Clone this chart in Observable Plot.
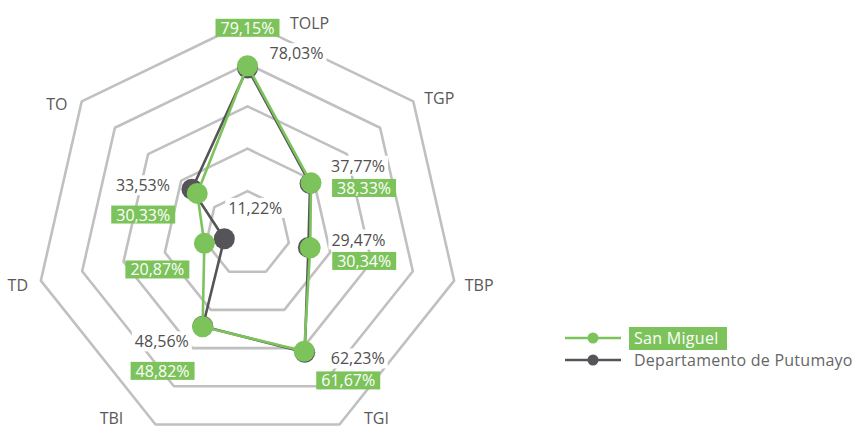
<!DOCTYPE html>
<html>
<head>
<meta charset="utf-8">
<script src="https://cdn.jsdelivr.net/npm/d3@7"></script>
<script src="https://cdn.jsdelivr.net/npm/@observablehq/plot@0.6"></script>
<style>
  html, body { margin: 0; padding: 0; background: #fff; }
  #wrap { position: relative; width: 858px; height: 427px; font-family: "Open Sans", sans-serif; }
  #legend { position: absolute; left: 565px; top: 327px; }
  .row { display: flex; align-items: center; height: 22px; }
  .row svg { display: block; }
  .lab { font-size: 16px; line-height: 22px; white-space: nowrap; }
  .lab.green { background: #7DC35B; color: #fff; padding: 0 8px 0 5px; margin-left: 8px; height: 23px; line-height: 23px; letter-spacing: 0.3px; }
  .lab.dark { color: #666; margin-left: 13px; letter-spacing: 0.25px; }
</style>
</head>
<body>
<div id="wrap"><div id="chart"></div><div id="legend"></div></div>
<script>
// ---- data ----
const axes = ["TOLP", "TGP", "TBP", "TGI", "TBI", "TD", "TO"];
const sanMiguel = [79.15, 38.33, 30.34, 61.67, 48.82, 20.87, 30.33];
const putumayo = [78.03, 37.77, 29.47, 62.23, 48.56, 11.22, 33.53];
const ringValues = [20, 40, 60, 80, 100];
const seriesNames = ["San Miguel", "Departamento de Putumayo"];

// ---- layout / style ----
const W = 858, H = 427, CX = 247, CY = 233, PX = 2.12; // px per percentage point
const green = "#7DC35B", dark = "#555559", ringColor = "#C0C0C0", textColor = "#595959";
// label nudges in pixels (dx, dy) from each point
const greenNudge = [[0,-37],[53,6],[54,14],[44,30],[-40,45],[-47,27],[-54,22]];
const darkNudge  = [[49,-14],[48,-17],[50,-7],[53,7],[-41,16],[31,-30],[-49,-3]];
const axisNudge  = [[62,2],[26,-2],[25,5],[37,-6],[-44,-6],[-23,5],[-25,4]];

const n = axes.length;
const ang = i => -Math.PI / 2 + i * 2 * Math.PI / n;
const pos = (i, v) => [v * Math.cos(ang(i)), -v * Math.sin(ang(i))];
const fmt = v => v.toFixed(2).replace(".", ",") + "%";

const closed = (vals, name) => d3.range(n + 1).map(j => {
  const i = j % n; const [x, y] = pos(i, vals[i]);
  return {name, axis: axes[i], v: vals[i], x, y};
});
const rings = ringValues.flatMap(r => d3.range(n + 1).map(j => {
  const [x, y] = pos(j % n, r); return {ring: r, x, y};
}));
const labels = (vals, nudge) => vals.map((v, i) => {
  const [x, y] = pos(i, v);
  return {text: fmt(v), x: x + nudge[i][0] / PX, y: y - nudge[i][1] / PX};
});
const axisLabels = axes.map((a, i) => {
  const [x, y] = pos(i, ringValues[ringValues.length - 1]);
  return {text: a, x: x + axisNudge[i][0] / PX, y: y - axisNudge[i][1] / PX};
});

const smRows = closed(sanMiguel, seriesNames[0]);
const puRows = closed(putumayo, seriesNames[1]);

const chart = Plot.plot({
  width: W, height: H, margin: 0,
  x: {domain: [-CX / PX, (W - CX) / PX], axis: null},
  y: {domain: [-(H - CY) / PX, CY / PX], axis: null},
  style: {fontFamily: '"Open Sans", sans-serif', background: "white", overflow: "visible"},
  marks: [
    Plot.line(rings, {x: "x", y: "y", z: "ring", stroke: ringColor, strokeWidth: 2.6, strokeLinejoin: "miter"}),
    Plot.line(puRows, {x: "x", y: "y", stroke: dark, strokeWidth: 2.6, curve: "linear"}),
    Plot.dot(puRows.slice(0, n), {x: "x", y: "y", r: 10.5, fill: dark}),
    Plot.line(smRows, {x: "x", y: "y", stroke: green, strokeWidth: 2.6, curve: "linear"}),
    Plot.dot(smRows.slice(0, n), {x: "x", y: "y", r: 10.5, fill: green}),
    Plot.text(labels(putumayo, darkNudge), {x: "x", y: "y", text: "text", fill: "#505050", fontSize: 16, textAnchor: "middle", lineAnchor: "middle", ariaDescription: "lab-dark"}),
    Plot.text(labels(sanMiguel, greenNudge), {x: "x", y: "y", text: "text", fill: "#fefefe", fontSize: 16, textAnchor: "middle", lineAnchor: "middle", ariaDescription: "lab-green"}),
    Plot.text(axisLabels, {x: "x", y: "y", text: "text", fill: textColor, fontSize: 16, textAnchor: "middle", lineAnchor: "middle"})
  ]
});
document.getElementById("chart").appendChild(chart);

// background boxes behind value labels
function boxes(desc, fillAttr, color, padX, padY) {
  let texts = chart.querySelectorAll(`g[aria-description="${desc}"] text`);
  if (!texts.length) texts = chart.querySelectorAll(`g[fill="${fillAttr}"] text`);
  texts.forEach(t => {
    const bb = t.getBBox();
    const r = document.createElementNS("http://www.w3.org/2000/svg", "rect");
    r.setAttribute("x", bb.x - padX);
    r.setAttribute("y", bb.y - padY);
    r.setAttribute("width", bb.width + 2 * padX);
    r.setAttribute("height", bb.height + 2 * padY);
    r.setAttribute("fill", color);
    r.setAttribute("stroke", "none");
    const tr = t.getAttribute("transform");
    if (tr) r.setAttribute("transform", tr);
    t.parentNode.insertBefore(r, t);
  });
}
boxes("lab-dark", "#505050", "#ffffff", 3, -1);
boxes("lab-green", "#fefefe", green, 5, -2);

// legend
const legend = d3.select("#legend");
[[seriesNames[0], green, "green"], [seriesNames[1], dark, "dark"]].forEach(([name, c, cls]) => {
  const row = legend.append("div").attr("class", "row");
  const s = row.append("svg").attr("width", 56).attr("height", 22);
  s.append("line").attr("x1", 0).attr("x2", 56).attr("y1", 11).attr("y2", 11).attr("stroke", c).attr("stroke-width", 2.6);
  s.append("circle").attr("cx", 28).attr("cy", 11).attr("r", 5.5).attr("fill", c);
  row.append("span").attr("class", "lab " + cls).text(name);
});
</script>
</body>
</html>
